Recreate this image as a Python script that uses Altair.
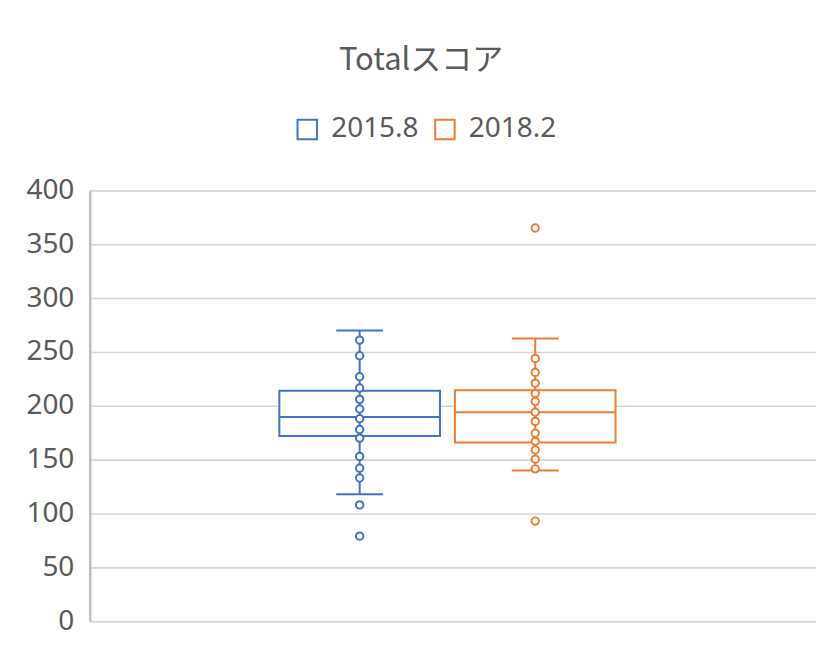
import altair as alt
import pandas as pd

# ---- data ----
series = ["2015.8", "2018.2"]
colors = ["#4472C4", "#ED7D31"]
q1 = [172, 166]
median = [189.5, 194]
q3 = [214, 214.5]
whisker_lo = [118, 140]
whisker_hi = [270, 262.5]
points_2015 = [261, 246.5, 227, 216.5, 206, 197, 188, 178, 170, 153, 142, 133, 108, 79]
points_2018 = [365, 244, 231, 221, 211.5, 204, 194, 185.5, 174.5, 167, 159, 150.5, 141.5, 93]
y_ticks = [0, 50, 100, 150, 200, 250, 300, 350, 400]

box_df = pd.DataFrame({
    "cat": ["Total"] * 2,
    "series": series,
    "q1": q1, "median": median, "q3": q3,
    "lo": whisker_lo, "hi": whisker_hi,
})
pts_df = pd.DataFrame({
    "cat": ["Total"] * (len(points_2015) + len(points_2018)),
    "series": [series[0]] * len(points_2015) + [series[1]] * len(points_2018),
    "value": points_2015 + points_2018,
})

FONT = "Noto Sans"
TXT = "#595959"

x_enc = alt.X("cat:N", axis=None,
              scale=alt.Scale(paddingInner=0, paddingOuter=0.58, align=0.486))
xo_enc = alt.XOffset("series:N", scale=alt.Scale(paddingInner=0.085, paddingOuter=0))
stroke_scale = alt.Scale(domain=series, range=colors)
yscale = alt.Scale(domain=[0, 400])

stroke_legend = alt.Stroke(
    "series:N", scale=stroke_scale,
    legend=alt.Legend(
        title=None, orient="none", legendX=204, legendY=-75, direction="horizontal",
        symbolType="square", symbolSize=380, symbolStrokeWidth=2,
        symbolFillColor="white", labelFont=FONT, labelFontSize=28,
        labelColor=TXT, labelOffset=10, columnPadding=12, symbolOffset=0,
    ),
)
stroke_plain = alt.Stroke("series:N", scale=stroke_scale)

base_box = alt.Chart(box_df)

whisker = base_box.mark_rule(strokeWidth=2).encode(
    x=x_enc, xOffset=xo_enc,
    y=alt.Y("lo:Q", scale=yscale,
            axis=alt.Axis(values=y_ticks, title=None, ticks=False, labelPadding=16,
                          labelFont=FONT, labelFontSize=28, labelColor=TXT,
                          gridColor="#D4D4D4", gridWidth=1.6,
                          domainColor="#BFBFBF", domainWidth=2.5)),
    y2="hi:Q",
    stroke=stroke_plain,
)

box = base_box.mark_bar(strokeWidth=2, fill="white").encode(
    x=x_enc, xOffset=xo_enc,
    y=alt.Y("q1:Q", scale=yscale),
    y2="q3:Q",
    stroke=stroke_legend,
)

# inner whisker line drawn above the box fill
whisker2 = base_box.mark_rule(strokeWidth=2).encode(
    x=x_enc, xOffset=xo_enc,
    y=alt.Y("q1:Q", scale=yscale),
    y2="q3:Q",
    stroke=stroke_plain,
)

med = base_box.mark_bar(strokeWidth=2, fill="white").encode(
    x=x_enc, xOffset=xo_enc,
    y=alt.Y("median:Q", scale=yscale),
    y2="median:Q",
    stroke=stroke_plain,
)
cap_lo = base_box.mark_bar(strokeWidth=2, width=47, fill="white").encode(
    x=x_enc, xOffset=xo_enc,
    y=alt.Y("lo:Q", scale=yscale),
    y2="lo:Q",
    stroke=stroke_plain,
)
cap_hi = base_box.mark_bar(strokeWidth=2, width=47, fill="white").encode(
    x=x_enc, xOffset=xo_enc,
    y=alt.Y("hi:Q", scale=yscale),
    y2="hi:Q",
    stroke=stroke_plain,
)

pts = alt.Chart(pts_df).mark_point(filled=False, size=55, strokeWidth=2, shape="circle",
                                   fill="white", fillOpacity=1).encode(
    x=x_enc, xOffset=xo_enc,
    y=alt.Y("value:Q", scale=yscale),
    stroke=stroke_plain,
)

chart = alt.layer(whisker, box, whisker2, med, cap_lo, cap_hi, pts).properties(
    width=728, height=432,
    autosize=alt.AutoSizeParams(type="none"),
    padding={"left": 82, "top": 182, "right": 0, "bottom": 20},
    title=alt.Title("Totalスコア", font="Noto Sans CJK JP", fontSize=31,
                    fontWeight="normal", color=TXT, anchor="middle", offset=39, dx=-32),
).configure_view(stroke=None).configure(background="white")

chart.save("out.html", embed_options={"renderer": "svg", "actions": False})
